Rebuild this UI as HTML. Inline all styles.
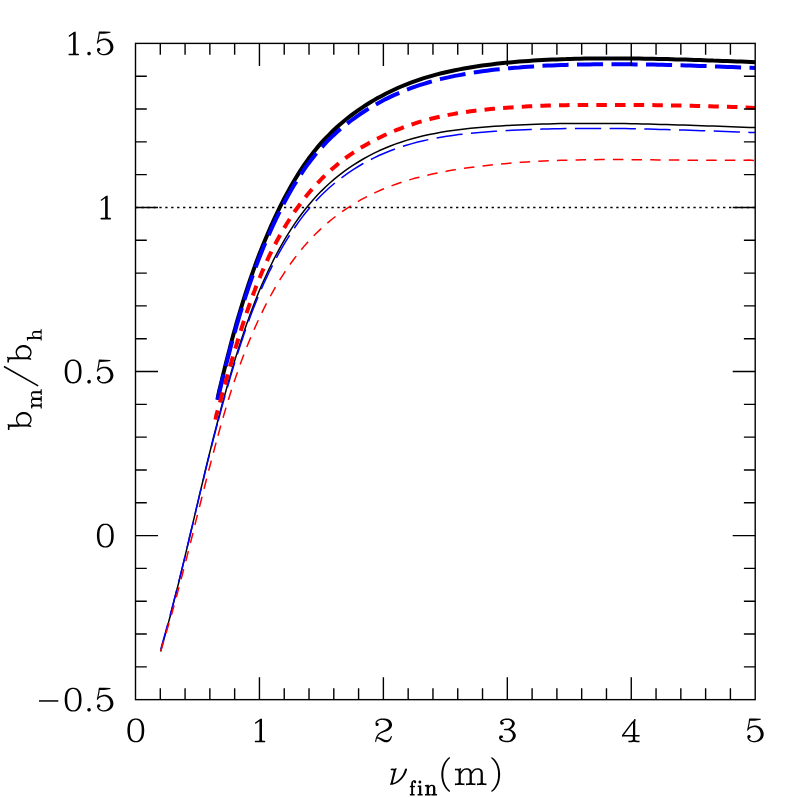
<!DOCTYPE html>
<html><head><meta charset="utf-8"><title>b_m/b_h</title>
<style>html,body{margin:0;padding:0;background:#fff;}svg{display:block;}body{font-family:"Liberation Serif",serif;}</style></head>
<body>
<svg width="797" height="797" viewBox="0 0 797 797">
<title>b_m/b_h versus nu_fin(m)</title><desc>Line chart. x axis nu_fin(m) from 0 to 5 (ticks 0 1 2 3 4 5); y axis b_m/b_h from -0.5 to 1.5 (ticks -0.5 0 0.5 1 1.5). Thick and thin black solid, blue long-dashed and red short-dashed curves; dotted line at 1.</desc>
<rect width="797" height="797" fill="#fff"/>
<path d="M135.60 207.46H755.20" stroke="#000" stroke-width="1.5" stroke-dasharray="2.3 3.634" fill="none"/>
<path d="M160.6 651.5 L162.1 645.8 L163.7 640.1 L165.3 634.3 L166.8 628.6 L168.4 622.9 L169.9 617.2 L171.4 611.4 L172.9 605.7 L174.3 599.9 L175.8 594.2 L177.2 588.4 L178.7 582.7 L180.1 576.9 L181.5 571.1 L182.9 565.4 L184.3 559.6 L185.6 553.8 L187.0 548.1 L188.4 542.3 L189.7 536.5 L191.1 530.7 L192.5 525.0 L193.8 519.2 L195.2 513.4 L196.5 507.6 L197.9 501.9 L199.2 496.1 L200.6 490.3 L202.0 484.6 L203.4 478.8 L204.7 473.0 L206.1 467.3 L207.5 461.5 L208.9 455.7 L210.4 450.0 L211.8 444.2 L213.2 438.5 L214.7 432.7 L216.2 427.0 L217.7 421.3 L219.2 415.5 L220.7 409.8 L222.2 404.1 L223.8 398.4 L225.4 392.7 L227.0 387.0 L228.6 381.3 L230.2 375.6 L231.9 369.9 L233.6 364.2 L235.3 358.6 L237.1 352.9 L238.9 347.2 L240.7 341.6 L242.6 336.0 L244.4 330.4 L246.4 324.8 L248.4 319.2 L250.4 313.6 L252.5 308.0 L254.6 302.5 L256.8 297.0 L259.0 291.5 L261.3 286.0 L263.7 280.6 L266.2 275.2 L268.7 269.8 L271.3 264.5 L273.9 259.1 L276.7 253.8 L279.5 248.6 L282.5 243.4 L285.5 238.2 L288.6 233.1 L291.8 228.1 L295.1 223.1 L298.5 218.3 L302.0 213.5 L305.6 208.8 L309.4 204.2 L313.2 199.7 L317.2 195.3 L321.3 191.1 L325.5 187.0 L329.8 183.0 L334.3 179.1 L338.9 175.4 L343.5 171.8 L348.3 168.4 L353.2 165.1 L358.2 162.0 L363.2 159.0 L368.4 156.1 L373.6 153.4 L378.9 150.8 L384.3 148.5 L389.7 146.2 L395.2 144.1 L400.8 142.2 L406.4 140.4 L412.0 138.8 L417.7 137.2 L423.5 135.8 L429.3 134.5 L435.1 133.4 L440.9 132.3 L446.8 131.3 L452.7 130.5 L458.7 129.7 L464.6 128.9 L470.6 128.3 L476.5 127.7 L482.5 127.2 L488.5 126.7 L494.5 126.3 L500.5 125.9 L506.5 125.6 L512.4 125.3 L518.4 125.0 L524.4 124.7 L530.3 124.5 L536.3 124.3 L542.2 124.1 L548.1 123.9 L554.1 123.8 L560.0 123.6 L565.9 123.6 L571.8 123.5 L577.7 123.4 L583.6 123.4 L589.6 123.4 L595.5 123.4 L601.4 123.4 L607.3 123.4 L613.2 123.5 L619.1 123.5 L625.0 123.6 L630.9 123.7 L636.7 123.8 L642.6 123.9 L648.5 124.1 L654.5 124.2 L660.4 124.4 L666.3 124.5 L672.2 124.7 L678.1 124.9 L684.0 125.1 L689.9 125.3 L695.9 125.5 L701.8 125.7 L707.7 125.9 L713.7 126.1 L719.6 126.3 L725.6 126.5 L731.5 126.8 L737.5 127.0 L743.5 127.2 L749.5 127.4 L755.3 127.5" stroke="#000" stroke-width="1.5" fill="none" stroke-linejoin="round"/>
<path d="M217.4 399.6 L218.3 395.0 L219.3 390.5 L220.4 386.0 L221.5 381.6 L222.5 377.1 L223.6 372.6 L224.7 368.1 L225.8 363.6 L227.0 359.1 L228.1 354.7 L229.3 350.2 L230.4 345.7 L231.6 341.2 L232.8 336.8 L234.0 332.3 L235.3 327.8 L236.5 323.4 L237.8 318.9 L239.1 314.5 L240.4 310.0 L241.8 305.6 L243.1 301.2 L244.5 296.8 L245.9 292.4 L247.4 288.0 L248.8 283.6 L250.3 279.2 L251.8 274.8 L253.4 270.4 L254.9 266.1 L256.5 261.7 L258.1 257.4 L259.8 253.1 L261.5 248.8 L263.2 244.5 L265.0 240.2 L266.8 235.9 L268.6 231.7 L270.4 227.4 L272.3 223.2 L274.2 219.0 L276.2 214.8 L278.2 210.6 L280.2 206.5 L282.3 202.3 L284.4 198.2 L286.6 194.1 L288.8 190.1 L291.1 186.0 L293.4 182.0 L295.8 178.0 L298.2 174.1 L300.7 170.2 L303.2 166.4 L305.8 162.6 L308.5 158.8 L311.3 155.1 L314.1 151.5 L317.0 147.9 L320.0 144.4 L323.1 140.9 L326.2 137.6 L329.5 134.3 L332.8 131.0 L336.2 127.8 L339.6 124.7 L343.2 121.7 L346.8 118.8 L350.5 115.9 L354.2 113.1 L358.0 110.4 L361.8 107.8 L365.7 105.2 L369.6 102.8 L373.6 100.4 L377.6 98.1 L381.7 95.9 L385.7 93.7 L389.8 91.7 L394.0 89.7 L398.2 87.8 L402.4 86.0 L406.6 84.3 L410.9 82.7 L415.2 81.1 L419.5 79.6 L423.8 78.2 L428.2 76.9 L432.6 75.6 L437.0 74.4 L441.4 73.3 L445.9 72.2 L450.4 71.2 L454.9 70.3 L459.4 69.4 L463.9 68.5 L468.5 67.7 L473.0 67.0 L477.6 66.3 L482.2 65.6 L486.8 65.0 L491.4 64.4 L496.0 63.8 L500.7 63.3 L505.3 62.8 L509.9 62.4 L514.6 62.0 L519.3 61.6 L523.9 61.2 L528.6 60.9 L533.3 60.6 L537.9 60.3 L542.6 60.0 L547.3 59.8 L552.0 59.6 L556.6 59.4 L561.3 59.2 L566.0 59.1 L570.6 58.9 L575.3 58.8 L579.9 58.7 L584.6 58.6 L589.2 58.6 L593.8 58.5 L598.4 58.5 L603.1 58.4 L607.7 58.4 L612.3 58.4 L616.9 58.4 L621.5 58.4 L626.1 58.5 L630.6 58.5 L635.2 58.5 L639.8 58.6 L644.4 58.7 L649.0 58.7 L653.6 58.8 L658.1 58.9 L662.7 59.0 L667.3 59.1 L671.9 59.3 L676.5 59.4 L681.1 59.5 L685.7 59.6 L690.3 59.8 L694.9 59.9 L699.5 60.1 L704.1 60.2 L708.8 60.4 L713.4 60.6 L718.1 60.7 L722.7 60.9 L727.4 61.1 L732.0 61.2 L736.7 61.4 L741.4 61.6 L746.1 61.8 L750.8 62.0 L755.3 62.2" stroke="#000" stroke-width="4.0" fill="none" stroke-linejoin="round"/>
<path d="M160.6 650.1 L162.1 644.4 L163.7 638.8 L165.3 633.1 L166.8 627.5 L168.4 621.8 L169.9 616.2 L171.4 610.5 L172.9 604.8 L174.3 599.1 L175.8 593.5 L177.2 587.8 L178.7 582.1 L180.1 576.4 L181.5 570.7 L182.9 565.0 L184.3 559.3 L185.6 553.6 L187.0 547.9 L188.4 542.2 L189.7 536.5 L191.1 530.8 L192.5 525.1 L193.8 519.4 L195.2 513.7 L196.5 508.0 L197.9 502.3 L199.2 496.6 L200.6 490.9 L202.0 485.2 L203.4 479.5 L204.7 473.8 L206.1 468.1 L207.5 462.4 L208.9 456.7 L210.4 451.0 L211.8 445.3 L213.2 439.7 L214.7 434.0 L216.2 428.3 L217.4 423.6" stroke="#00f" stroke-width="1.5" fill="none" stroke-linejoin="round" stroke-dasharray="26.25 8.45" stroke-dashoffset="-1.2"/>
<path d="M217.4 423.6 L217.7 422.7 L219.2 417.0 L220.7 411.3 L222.2 405.7 L223.8 400.1 L225.4 394.4 L227.0 388.8 L228.6 383.2 L230.2 377.5 L231.9 371.9 L233.6 366.3 L235.3 360.7 L237.1 355.1 L238.9 349.5 L240.7 344.0 L242.6 338.4 L244.4 332.9 L246.4 327.3 L248.4 321.8 L250.4 316.3 L252.5 310.8 L254.6 305.4 L256.8 299.9 L259.0 294.5 L261.3 289.1 L263.7 283.7 L266.2 278.4 L268.7 273.0 L271.3 267.8 L273.9 262.5 L276.7 257.3 L279.5 252.1 L282.5 246.9 L285.5 241.8 L288.6 236.8 L291.8 231.9 L295.1 227.0 L298.5 222.1 L302.0 217.4 L305.6 212.8 L309.4 208.2 L313.2 203.8 L317.2 199.5 L321.3 195.3 L325.5 191.2 L329.8 187.3 L334.3 183.5 L338.9 179.8 L343.5 176.3 L348.3 172.9 L353.2 169.6 L358.2 166.5 L363.2 163.5 L368.4 160.7 L373.6 158.1 L378.9 155.5 L384.3 153.2 L389.7 151.0 L395.2 148.9 L400.8 147.0 L406.4 145.2 L412.0 143.6 L417.7 142.1 L423.5 140.7 L429.3 139.4 L435.1 138.3 L440.9 137.2 L446.8 136.3 L452.7 135.4 L458.7 134.6 L464.6 133.9 L470.6 133.3 L476.5 132.7 L482.5 132.2 L488.5 131.7 L494.5 131.3 L500.5 130.9 L506.5 130.6 L512.4 130.3 L518.4 130.0 L524.4 129.7 L530.3 129.5 L536.3 129.3 L542.2 129.1 L548.1 128.9 L554.1 128.8 L560.0 128.7 L565.9 128.6 L571.8 128.5 L577.7 128.4 L583.6 128.4 L589.6 128.4 L595.5 128.4 L601.4 128.4 L607.3 128.5 L613.2 128.5 L619.1 128.6 L625.0 128.6 L630.9 128.7 L636.7 128.8 L642.6 129.0 L648.5 129.1 L654.5 129.2 L660.4 129.4 L666.3 129.6 L672.2 129.7 L678.1 129.9 L684.0 130.1 L689.9 130.3 L695.9 130.5 L701.8 130.7 L707.7 130.9 L713.7 131.1 L719.6 131.3 L725.6 131.5 L731.5 131.8 L737.5 132.0 L743.5 132.2 L749.5 132.4 L755.3 132.5" stroke="#00f" stroke-width="1.5" fill="none" stroke-linejoin="round" stroke-dasharray="26.25 8.45" stroke-dashoffset="-2.75"/>
<path d="M217.4 401.3 L218.3 396.7 L219.3 392.3 L220.4 387.9 L221.5 383.4 L222.5 379.0 L223.6 374.6 L224.7 370.2 L225.8 365.7 L227.0 361.3 L228.1 356.9 L229.3 352.4 L230.4 348.0 L231.6 343.6 L232.8 339.2 L234.0 334.8 L235.3 330.4 L236.5 326.0 L237.8 321.6 L239.1 317.2 L240.4 312.8 L241.8 308.4 L243.1 304.0 L244.5 299.7 L245.9 295.3 L247.4 291.0 L248.8 286.6 L250.3 282.3 L251.8 278.0 L253.4 273.7 L254.9 269.4 L256.5 265.1 L258.1 260.8 L259.8 256.5 L261.5 252.3 L263.2 248.0 L265.0 243.8 L266.8 239.6 L268.6 235.4 L270.4 231.2 L272.3 227.0 L274.2 222.9 L276.2 218.7 L278.2 214.6 L280.2 210.5 L282.3 206.4 L284.4 202.3 L286.6 198.3 L288.8 194.3 L291.1 190.3 L293.4 186.3 L295.8 182.4 L298.2 178.5 L300.7 174.7 L303.2 170.9 L305.8 167.1 L308.5 163.4 L311.3 159.8 L314.1 156.2 L317.0 152.6 L320.0 149.2 L323.1 145.8 L326.2 142.4 L329.5 139.1 L332.8 135.9 L336.2 132.8 L339.6 129.8 L343.2 126.8 L346.8 123.9 L350.5 121.0 L354.2 118.3 L358.0 115.6 L361.8 113.0 L365.7 110.5 L369.6 108.0 L373.6 105.7 L377.6 103.4 L381.7 101.2 L385.7 99.1 L389.8 97.1 L394.0 95.1 L398.2 93.3 L402.4 91.5 L406.6 89.8 L410.9 88.2 L415.2 86.6 L419.5 85.2 L423.8 83.8 L428.2 82.5 L432.6 81.2 L437.0 80.0 L441.4 78.9 L445.9 77.9 L450.4 76.9 L454.9 75.9 L459.4 75.1 L463.9 74.2 L468.5 73.4 L473.0 72.7 L477.6 72.0 L482.2 71.3 L486.8 70.7 L491.4 70.1 L496.0 69.6 L500.7 69.1 L505.3 68.6 L509.9 68.2 L514.6 67.7 L519.3 67.4 L523.9 67.0 L528.6 66.7 L533.3 66.4 L537.9 66.1 L542.6 65.8 L547.3 65.6 L552.0 65.4 L556.6 65.2 L561.3 65.0 L566.0 64.9 L570.6 64.8 L575.3 64.6 L579.9 64.5 L584.6 64.5 L589.2 64.4 L593.8 64.3 L598.4 64.3 L603.1 64.3 L607.7 64.2 L612.3 64.2 L616.9 64.2 L621.5 64.3 L626.1 64.3 L630.6 64.3 L635.2 64.4 L639.8 64.4 L644.4 64.5 L649.0 64.6 L653.6 64.6 L658.1 64.7 L662.7 64.8 L667.3 64.9 L671.9 65.1 L676.5 65.2 L681.1 65.3 L685.7 65.4 L690.3 65.6 L694.9 65.7 L699.5 65.9 L704.1 66.0 L708.8 66.2 L713.4 66.4 L718.1 66.5 L722.7 66.7 L727.4 66.9 L732.0 67.0 L736.7 67.2 L741.4 67.4 L746.1 67.6 L750.8 67.7 L755.3 68.0" stroke="#00f" stroke-width="4.0" fill="none" stroke-linejoin="round" stroke-dasharray="26.1 8.42" stroke-dashoffset="-1.42"/>
<path d="M160.7 651.5 L162.2 646.0 L163.9 640.6 L165.5 635.1 L167.1 629.6 L168.7 624.2 L170.3 618.7 L171.9 613.2 L173.4 607.7 L174.9 602.2 L176.4 596.7 L177.9 591.2 L179.4 585.7 L180.8 580.2 L182.3 574.7 L183.7 569.1 L185.1 563.6 L186.6 558.1 L188.0 552.6 L189.4 547.0 L190.8 541.5 L192.2 536.0 L193.6 530.4 L194.9 524.9 L196.3 519.4 L197.7 513.8 L199.1 508.3 L200.5 502.8 L201.9 497.3 L203.3 491.7 L204.7 486.2 L206.1 480.7 L207.5 475.2 L208.9 469.7 L210.4 464.2 L211.8 458.7 L213.3 453.2 L214.7 447.7 L216.2 442.2 L217.4 437.7" stroke="#f00" stroke-width="1.5" fill="none" stroke-linejoin="round" stroke-dasharray="10.5 8.16" stroke-dashoffset="-0.4"/>
<path d="M217.4 437.7 L217.7 436.7 L219.2 431.2 L220.7 425.7 L222.3 420.3 L223.9 414.8 L225.5 409.4 L227.1 403.9 L228.8 398.5 L230.5 393.1 L232.2 387.7 L234.0 382.3 L235.8 376.9 L237.7 371.5 L239.6 366.1 L241.5 360.8 L243.5 355.4 L245.6 350.1 L247.7 344.7 L249.9 339.4 L252.1 334.2 L254.4 328.9 L256.7 323.7 L259.1 318.4 L261.6 313.3 L264.1 308.1 L266.7 303.0 L269.4 297.9 L272.2 292.9 L275.0 287.9 L277.9 283.0 L280.9 278.1 L284.0 273.3 L287.2 268.5 L290.5 263.8 L293.8 259.2 L297.3 254.7 L300.8 250.3 L304.4 245.9 L308.2 241.7 L312.0 237.5 L316.0 233.5 L320.1 229.6 L324.2 225.8 L328.5 222.1 L332.9 218.5 L337.3 215.1 L341.9 211.8 L346.6 208.6 L351.3 205.5 L356.1 202.6 L361.1 199.7 L366.0 197.1 L371.1 194.5 L376.2 192.1 L381.4 189.8 L386.7 187.6 L392.0 185.6 L397.3 183.7 L402.7 181.9 L408.2 180.2 L413.7 178.6 L419.2 177.2 L424.8 175.8 L430.3 174.5 L436.0 173.3 L441.6 172.2 L447.3 171.1 L452.9 170.1 L458.6 169.2 L464.3 168.3 L470.0 167.5 L475.7 166.8 L481.3 166.1 L487.0 165.4 L492.7 164.8 L498.4 164.2 L504.1 163.7 L509.8 163.2 L515.4 162.7 L521.1 162.3 L526.8 161.9 L532.5 161.6 L538.2 161.3 L543.9 161.0 L549.5 160.8 L555.2 160.5 L560.9 160.3 L566.6 160.2 L572.3 160.0 L577.9 159.9 L583.6 159.8 L589.3 159.7 L595.0 159.7 L600.7 159.6 L606.4 159.6 L612.1 159.6 L617.7 159.6 L623.4 159.6 L629.1 159.7 L634.8 159.7 L640.5 159.7 L646.2 159.8 L651.9 159.8 L657.6 159.9 L663.3 160.0 L669.0 160.0 L674.7 160.1 L680.4 160.1 L686.1 160.2 L691.8 160.2 L697.5 160.3 L703.2 160.3 L708.9 160.3 L714.6 160.3 L720.3 160.3 L726.1 160.3 L731.8 160.3 L737.5 160.2 L743.2 160.2 L749.0 160.1 L754.6 160.5" stroke="#f00" stroke-width="1.5" fill="none" stroke-linejoin="round" stroke-dasharray="10.5 8.16" stroke-dashoffset="-2.09"/>
<path d="M215.5 419.7 L216.4 414.9 L217.6 410.7 L218.8 406.5 L220.0 402.2 L221.2 397.9 L222.4 393.6 L223.6 389.3 L224.8 385.0 L226.0 380.7 L227.2 376.4 L228.5 372.1 L229.7 367.7 L231.0 363.4 L232.2 359.1 L233.5 354.7 L234.8 350.4 L236.1 346.0 L237.4 341.7 L238.7 337.4 L240.1 333.0 L241.4 328.7 L242.8 324.4 L244.2 320.0 L245.6 315.7 L247.1 311.4 L248.6 307.1 L250.1 302.8 L251.6 298.6 L253.2 294.3 L254.8 290.1 L256.4 285.8 L258.1 281.6 L259.8 277.4 L261.5 273.2 L263.3 269.1 L265.1 264.9 L267.0 260.8 L268.9 256.7 L270.9 252.6 L272.9 248.5 L275.0 244.5 L277.1 240.5 L279.3 236.5 L281.5 232.6 L283.8 228.7 L286.1 224.8 L288.5 221.0 L291.0 217.1 L293.5 213.4 L296.0 209.7 L298.7 206.0 L301.4 202.4 L304.1 198.8 L306.9 195.3 L309.8 191.8 L312.7 188.4 L315.7 185.0 L318.8 181.8 L321.9 178.5 L325.1 175.4 L328.4 172.3 L331.7 169.3 L335.1 166.4 L338.5 163.5 L342.0 160.7 L345.6 158.0 L349.3 155.4 L353.0 152.9 L356.7 150.4 L360.5 148.0 L364.4 145.7 L368.3 143.5 L372.2 141.3 L376.2 139.2 L380.3 137.2 L384.3 135.3 L388.4 133.4 L392.6 131.6 L396.8 129.9 L401.0 128.3 L405.2 126.7 L409.4 125.2 L413.7 123.8 L418.0 122.4 L422.3 121.2 L426.6 120.0 L431.0 118.8 L435.3 117.8 L439.7 116.8 L444.1 115.8 L448.5 114.9 L452.9 114.1 L457.3 113.3 L461.8 112.6 L466.2 111.9 L470.7 111.3 L475.2 110.7 L479.6 110.2 L484.1 109.7 L488.6 109.2 L493.1 108.8 L497.7 108.4 L502.2 108.0 L506.7 107.7 L511.2 107.4 L515.8 107.1 L520.3 106.8 L524.9 106.6 L529.4 106.3 L534.0 106.1 L538.5 105.9 L543.1 105.8 L547.6 105.6 L552.2 105.5 L556.7 105.4 L561.3 105.3 L565.9 105.2 L570.4 105.1 L575.0 105.1 L579.5 105.0 L584.0 105.0 L588.6 104.9 L593.1 104.9 L597.7 104.9 L602.2 104.9 L606.7 104.9 L611.2 104.9 L615.7 104.9 L620.2 104.9 L624.7 104.9 L629.2 104.9 L633.7 105.0 L638.2 105.0 L642.7 105.0 L647.1 105.1 L651.6 105.1 L656.1 105.2 L660.6 105.2 L665.1 105.3 L669.5 105.4 L674.0 105.5 L678.5 105.5 L683.0 105.6 L687.5 105.7 L692.0 105.8 L696.4 105.9 L700.9 106.0 L705.4 106.2 L710.0 106.3 L714.5 106.4 L719.0 106.5 L723.5 106.7 L728.0 106.8 L732.6 107.0 L737.1 107.1 L741.7 107.3 L746.2 107.5 L750.8 107.7 L755.3 107.9" stroke="#f00" stroke-width="4.0" fill="none" stroke-linejoin="round" stroke-dasharray="10.5 8.16" stroke-dashoffset="0.89"/>
<path d="M160.29 699.65v-11.3M160.29 43.40v11.3M185.08 699.65v-11.3M185.08 43.40v11.3M209.86 699.65v-11.3M209.86 43.40v11.3M234.65 699.65v-11.3M234.65 43.40v11.3M259.44 699.65v-22.5M259.44 43.40v22.5M284.23 699.65v-11.3M284.23 43.40v11.3M309.02 699.65v-11.3M309.02 43.40v11.3M333.80 699.65v-11.3M333.80 43.40v11.3M358.59 699.65v-11.3M358.59 43.40v11.3M383.38 699.65v-22.5M383.38 43.40v22.5M408.17 699.65v-11.3M408.17 43.40v11.3M432.96 699.65v-11.3M432.96 43.40v11.3M457.74 699.65v-11.3M457.74 43.40v11.3M482.53 699.65v-11.3M482.53 43.40v11.3M507.32 699.65v-22.5M507.32 43.40v22.5M532.11 699.65v-11.3M532.11 43.40v11.3M556.90 699.65v-11.3M556.90 43.40v11.3M581.68 699.65v-11.3M581.68 43.40v11.3M606.47 699.65v-11.3M606.47 43.40v11.3M631.26 699.65v-22.5M631.26 43.40v22.5M656.05 699.65v-11.3M656.05 43.40v11.3M680.84 699.65v-11.3M680.84 43.40v11.3M705.62 699.65v-11.3M705.62 43.40v11.3M730.41 699.65v-11.3M730.41 43.40v11.3M135.50 666.84h11.3M755.20 666.84h-11.3M135.50 634.02h11.3M755.20 634.02h-11.3M135.50 601.21h11.3M755.20 601.21h-11.3M135.50 568.40h11.3M755.20 568.40h-11.3M135.50 535.59h22.5M755.20 535.59h-22.5M135.50 502.77h11.3M755.20 502.77h-11.3M135.50 469.96h11.3M755.20 469.96h-11.3M135.50 437.15h11.3M755.20 437.15h-11.3M135.50 404.34h11.3M755.20 404.34h-11.3M135.50 371.52h22.5M755.20 371.52h-22.5M135.50 338.71h11.3M755.20 338.71h-11.3M135.50 305.90h11.3M755.20 305.90h-11.3M135.50 273.09h11.3M755.20 273.09h-11.3M135.50 240.27h11.3M755.20 240.27h-11.3M135.50 207.46h22.5M755.20 207.46h-22.5M135.50 174.65h11.3M755.20 174.65h-11.3M135.50 141.84h11.3M755.20 141.84h-11.3M135.50 109.02h11.3M755.20 109.02h-11.3M135.50 76.21h11.3M755.20 76.21h-11.3" stroke="#000" stroke-width="1.4" fill="none"/>
<rect x="135.50" y="43.40" width="619.70" height="656.25" fill="none" stroke="#000" stroke-width="1.4"/>
<defs><path id="g-one" d="M0.44 4.23L0.31 4.40L0.23 4.66L0.24 4.88L0.34 5.13L0.48 5.29L0.67 5.41L0.93 5.46L1.15 5.43L5.15 2.83L5.15 22.22L4.69 22.92L0.79 22.92L0.49 22.98L0.23 23.15L0.06 23.42L0.00 23.79L0.09 24.09L0.35 24.38L0.56 24.48L0.79 24.51L10.88 24.51L11.26 24.42L11.44 24.28L11.58 24.09L11.68 23.72L11.59 23.35L11.33 23.06L10.96 22.92L8.57 22.92L8.03 22.11L8.02 0.03L7.91 0.00L7.16 0.46L6.95 0.31L6.74 0.26L6.53 0.27L6.33 0.34Z"/><path id="g-period" d="M172 113Q172 159 206 192Q240 225 285 225Q313 225 340 210Q367 195 382 168Q397 141 397 113Q397 68 364 34Q331 0 285 0Q240 0 206 34Q172 68 172 113Z"/><path id="g-five" d="M0.71 8.56L0.00 11.63L0.11 11.97L0.28 12.11L0.48 12.18L0.77 12.14L0.95 12.02L1.37 11.38L1.74 10.95L2.21 10.51L2.74 10.12L3.93 9.47L5.32 8.95L6.63 8.65L7.74 8.60L8.29 8.66L8.92 8.79L9.53 8.98L10.10 9.24L10.77 9.65L11.46 10.22L12.06 10.87L12.57 11.59L12.99 12.36L13.36 13.25L13.64 14.19L13.82 15.14L13.87 15.79L13.85 16.44L13.78 17.00L13.63 17.65L13.41 18.28L13.16 18.81L12.82 19.38L12.41 19.93L11.94 20.45L11.48 20.86L10.89 21.29L10.32 21.63L9.64 21.95L9.02 22.18L8.38 22.34L7.72 22.45L7.05 22.50L6.38 22.48L5.72 22.39L5.17 22.26L4.56 22.04L3.96 21.74L3.41 21.38L2.96 21.02L2.30 20.33L1.84 19.65L2.22 19.64L2.63 19.53L2.99 19.32L3.29 19.02L3.50 18.65L3.61 18.24L3.61 17.82L3.50 17.41L3.35 17.13L3.15 16.89L2.82 16.63L2.53 16.50L2.22 16.43L1.79 16.43L1.48 16.50L1.20 16.63L0.94 16.81L0.72 17.05L0.55 17.32L0.42 17.70L0.22 17.96L0.17 18.31L0.26 19.00L0.53 19.87L0.97 20.68L1.60 21.47L2.35 22.18L3.02 22.66L3.65 23.02L4.40 23.35L5.18 23.59L5.98 23.75L6.91 23.83L7.75 23.83L8.78 23.74L9.80 23.56L10.81 23.28L11.80 22.93L12.67 22.52L13.39 22.09L14.10 21.58L14.68 21.05L15.28 20.38L15.74 19.72L16.07 19.18L16.41 18.44L16.68 17.67L16.84 16.96L16.92 16.34L16.94 15.62L16.87 14.80L16.69 13.88L16.45 13.09L16.14 12.31L15.73 11.48L15.25 10.70L14.82 10.12L14.28 9.52L13.62 8.92L13.03 8.48L12.36 8.07L11.67 7.74L10.96 7.47L10.25 7.28L9.41 7.13L8.57 7.06L7.83 7.05L7.00 7.11L6.18 7.23L5.37 7.41L4.47 7.69L3.69 8.01L2.96 8.39L2.26 8.83L1.68 9.28L2.51 5.42L3.04 2.32L3.16 2.37L7.57 2.20L10.98 1.81L13.89 1.34L13.97 1.30L14.00 1.22L13.91 0.43L13.86 0.35L7.99 0.06L2.28 0.00L2.22 0.08L2.17 0.54L2.01 0.73L1.93 0.96L1.44 4.67Z"/><path id="g-zero" d="M8.44 24.39L6.98 24.29L5.99 24.05L5.31 23.81L4.39 23.35L3.81 22.97L2.98 22.28L2.38 21.59L1.94 20.97L1.37 19.84L0.92 18.64L0.42 16.76L0.04 13.97L0.00 11.14L0.22 8.76L0.64 6.39L1.00 5.26L1.34 4.51L1.85 3.59L2.35 2.87L3.25 1.89L3.56 1.63L4.27 1.11L5.52 0.47L6.39 0.21L7.35 0.04L9.39 0.00L9.98 0.04L11.02 0.23L12.02 0.57L13.02 1.09L13.64 1.54L14.46 2.30L14.98 2.89L15.57 3.76L15.94 4.45L16.30 5.30L16.66 6.43L16.94 7.68L17.29 10.93L17.29 13.26L17.20 14.64L16.91 16.76L16.80 17.39L16.44 18.72L15.99 19.80L15.52 20.65L14.66 21.84L14.02 22.49L13.27 23.10L12.70 23.47L12.06 23.79L11.48 24.01L10.52 24.25L9.81 24.36ZM8.47 23.01L9.27 23.00L9.89 22.89L10.56 22.68L11.14 22.40L11.64 22.09L11.89 21.87L12.27 21.51L12.84 20.80L13.36 19.93L13.67 19.26L14.00 18.43L14.24 17.47L14.53 15.51L14.66 13.26L14.68 10.68L14.62 9.43L14.41 7.59L14.22 6.59L13.98 5.72L13.63 4.80L13.11 3.84L12.73 3.30L12.23 2.71L11.89 2.42L11.39 2.07L10.77 1.74L9.98 1.50L9.14 1.37L7.85 1.41L7.27 1.52L6.35 1.83L5.94 2.05L5.17 2.64L4.77 3.07L4.26 3.76L3.63 4.93L3.33 5.68L3.10 6.47L2.87 7.76L2.67 9.59L2.62 10.89L2.63 13.14L2.71 15.01L2.93 16.59L3.29 18.22L3.68 19.34L4.04 20.14L4.71 21.14L5.31 21.74L5.94 22.24L6.77 22.66L7.39 22.86L8.06 22.99Z"/><path id="g-two" d="M1.44 2.28L0.98 2.84L0.63 3.44L0.41 4.03L0.29 4.64L0.31 4.79L0.42 5.00L0.67 5.19L0.51 5.53L0.43 5.94L0.45 6.36L0.55 6.67L0.76 7.03L0.97 7.27L1.23 7.45L1.52 7.58L1.94 7.67L2.26 7.66L2.57 7.58L2.94 7.40L3.19 7.19L3.39 6.95L3.58 6.57L3.65 6.26L3.65 5.84L3.54 5.43L3.33 5.06L3.03 4.76L2.66 4.55L2.26 4.44L1.83 4.44L1.51 4.51L1.73 3.88L2.06 3.37L2.38 3.05L2.83 2.70L3.34 2.39L4.00 2.09L5.35 1.65L6.76 1.44L7.46 1.42L8.27 1.47L9.65 1.73L10.96 2.18L11.62 2.53L12.14 2.87L12.62 3.27L13.03 3.70L13.38 4.15L13.68 4.66L13.91 5.19L14.07 5.74L14.16 6.29L14.16 6.84L13.99 7.76L13.64 8.54L13.05 9.34L12.21 10.12L11.33 10.74L10.36 11.32L6.57 13.12L5.23 13.86L4.51 14.33L3.90 14.80L3.35 15.30L2.85 15.84L2.32 16.54L1.81 17.36L1.33 18.31L0.96 19.22L0.61 20.29L0.27 21.71L0.00 23.17L0.07 23.52L0.27 23.73L0.48 23.80L0.76 23.76L0.99 23.59L1.09 23.39L1.43 21.84L1.79 20.57L2.11 20.40L2.50 20.34L3.26 20.47L4.22 20.87L5.20 21.41L7.91 23.13L8.86 23.59L9.81 23.91L10.84 24.08L11.38 24.10L12.00 24.05L12.61 23.93L13.11 23.78L14.04 23.34L14.65 22.91L15.26 22.35L15.74 21.76L16.20 20.99L16.66 19.91L17.13 18.35L17.11 18.00L16.88 17.73L16.67 17.66L16.45 17.68L16.16 17.87L15.20 19.90L14.84 20.44L14.45 20.84L13.93 21.18L13.36 21.44L12.72 21.62L12.06 21.72L11.50 21.73L10.95 21.68L9.70 21.38L8.57 20.92L5.97 19.71L4.49 19.19L3.36 18.95L2.88 18.92L2.43 18.96L3.01 17.88L3.71 16.89L4.40 16.18L5.28 15.52L6.26 14.97L7.51 14.41L11.65 12.88L12.94 12.32L13.75 11.90L14.53 11.39L15.04 10.99L15.64 10.42L16.24 9.69L16.76 8.79L17.11 7.88L17.28 7.04L17.32 6.17L17.19 5.22L16.89 4.29L16.50 3.52L16.01 2.81L15.44 2.19L14.79 1.65L13.91 1.09L13.07 0.71L12.10 0.41L11.01 0.19L9.92 0.07L8.51 0.00L7.22 0.04L6.14 0.16L4.99 0.39L3.97 0.72L2.98 1.16L2.16 1.67Z"/><path id="g-three" d="M8.66 24.43L6.79 24.32L5.54 24.10L3.75 23.59L2.41 23.00L1.66 22.51L0.61 21.59L0.19 20.80L0.00 19.84L0.04 19.26L0.33 18.34L0.58 17.93L0.83 17.70L1.29 17.49L2.08 17.37L2.95 17.45L3.29 17.55L3.70 17.78L3.99 18.18L4.10 18.63L4.04 19.13L3.83 19.52L3.45 19.82L3.04 19.97L2.11 20.13L2.01 20.30L1.97 20.51L2.12 20.82L3.37 21.74L4.50 22.24L5.75 22.59L6.70 22.76L8.58 22.89L9.66 22.82L10.16 22.73L10.95 22.44L11.70 22.01L12.25 21.57L12.88 20.84L13.33 20.22L13.75 19.43L14.01 18.76L14.21 17.80L14.20 17.13L14.11 16.63L13.80 15.68L13.44 14.97L13.04 14.34L12.45 13.66L11.96 13.22L11.29 12.76L9.62 12.01L9.16 11.96L5.62 11.98L5.33 11.91L5.12 11.77L4.99 11.59L4.93 11.34L5.00 10.93L5.16 10.75L5.37 10.66L6.66 10.53L8.91 10.44L9.45 10.34L10.91 9.43L11.89 8.51L12.33 7.93L12.80 7.13L13.13 6.30L13.34 5.34L13.34 4.88L13.17 4.30L12.82 3.59L12.33 2.95L11.37 2.15L10.50 1.73L10.08 1.62L9.12 1.46L8.16 1.46L7.45 1.50L6.29 1.67L5.41 1.91L4.70 2.17L3.55 2.84L2.99 3.34L2.97 3.55L3.08 3.73L4.16 3.94L4.53 4.18L4.75 4.47L4.89 4.84L4.87 5.34L4.70 5.72L4.41 6.02L4.04 6.21L3.45 6.31L2.87 6.32L2.45 6.26L2.08 6.13L1.73 5.93L1.51 5.68L1.34 5.30L1.29 4.76L1.14 4.18L1.15 3.76L1.27 3.22L1.57 2.59L2.41 1.80L3.45 1.12L3.95 0.89L5.00 0.53L6.54 0.17L8.12 0.00L9.79 0.05L10.50 0.16L11.91 0.55L12.79 0.94L13.50 1.34L14.47 2.05L15.20 2.79L15.71 3.51L16.05 4.26L16.14 4.84L16.14 5.30L15.97 6.34L15.44 7.55L15.01 8.22L14.18 9.18L12.96 10.18L12.41 10.55L11.57 11.01L11.50 11.13L13.16 11.92L13.73 12.26L14.63 12.93L15.72 13.97L16.29 14.72L16.75 15.51L17.04 16.26L17.22 17.38L17.05 18.68L16.69 19.63L15.91 20.89L15.33 21.56L14.70 22.15L14.04 22.68L13.29 23.18L11.83 23.87L10.91 24.15L9.70 24.35ZM4.29 20.18L4.12 20.18L3.99 20.05L3.99 19.88L4.12 19.76L4.29 19.76L4.42 19.88L4.42 20.05Z"/><path id="g-four" d="M17.72 23.77L16.84 23.69L14.80 23.65L13.55 23.48L12.34 23.19L11.13 23.48L9.88 23.65L7.76 23.69L7.09 23.78L6.84 23.75L6.69 23.64L6.62 23.39L6.67 22.93L6.62 22.39L6.68 22.20L6.78 22.10L7.09 22.04L7.63 22.14L9.34 22.03L9.88 21.94L10.63 21.70L11.09 21.38L11.15 21.22L11.15 20.93L11.15 18.22L11.09 18.00L10.63 17.87L9.51 17.83L1.47 17.86L1.05 17.81L0.38 17.95L0.13 17.88L0.00 17.64L0.01 17.35L0.13 16.93L0.20 16.39L0.58 15.68L10.01 3.18L10.68 2.61L11.34 2.42L12.38 0.39L12.59 0.18L12.97 0.01L13.38 0.00L13.72 0.14L13.95 0.43L14.04 0.77L13.54 3.22L13.61 5.47L13.58 13.35L13.61 16.14L13.72 16.24L14.47 16.32L16.93 16.32L17.72 16.21L17.97 16.31L18.07 16.60L18.02 17.06L18.06 17.64L17.97 17.84L17.80 17.93L16.51 17.84L14.05 17.85L13.59 17.93L13.53 18.14L13.54 21.27L13.63 21.42L13.97 21.66L14.76 21.94L15.34 22.03L17.01 22.13L17.55 22.04L17.86 22.10L17.97 22.20L18.02 22.39L17.98 22.89L18.02 23.43L17.93 23.68ZM10.43 16.31L11.18 16.29L11.26 16.25L11.30 16.14L11.32 5.47L11.30 4.39L11.26 4.25L11.18 4.20L11.04 4.27L10.83 4.52L2.11 16.18L2.18 16.28L2.43 16.32Z"/><path id="g-nu" d="M0.97 16.62L0.56 16.63L0.21 16.45L0.02 16.12L0.00 15.70L0.18 15.31L0.52 14.87L0.68 14.41L3.19 4.08L3.35 3.37L3.46 2.49L3.35 2.30L2.93 2.15L2.18 2.06L1.31 2.04L1.02 1.98L0.81 1.87L0.60 1.62L0.53 1.33L0.62 0.66L0.68 0.54L0.85 0.47L2.64 0.39L3.56 0.44L4.39 0.56L5.43 0.07L5.81 0.00L6.06 0.05L6.27 0.17L6.43 0.37L6.50 0.62L6.49 0.87L6.41 1.12L5.73 2.03L5.63 2.24L5.50 3.20L2.85 14.08L2.72 14.70L2.76 14.83L2.85 14.85L4.64 14.13L6.89 12.79L8.52 11.50L9.99 10.03L11.06 8.74L11.75 7.74L12.27 6.95L13.03 5.58L13.38 4.87L13.98 3.37L14.42 2.12L14.58 1.41L14.82 0.95L15.18 0.56L15.56 0.40L16.06 0.41L16.47 0.64L16.73 1.08L16.73 1.62L15.98 3.78L15.36 5.28L14.44 7.03L13.40 8.62L12.85 9.37L11.74 10.66L9.85 12.50L8.42 13.62L6.37 14.91L4.47 15.79L3.18 16.25L2.56 16.37L1.77 16.28Z"/><path id="g-sub_f" d="M4.60 15.31L0.48 15.32L0.18 15.24L0.06 15.10L0.00 14.89L0.00 14.39L0.11 14.06L0.35 13.93L1.18 13.83L1.31 13.75L1.38 13.60L1.41 8.31L1.40 7.39L1.35 7.11L1.18 7.05L0.48 7.07L0.23 6.99L0.06 6.72L0.04 6.26L0.10 5.89L0.27 5.72L0.52 5.66L1.23 5.66L1.38 5.56L1.39 3.43L1.50 2.60L1.76 1.89L2.09 1.35L2.52 0.83L3.14 0.38L3.81 0.09L4.23 0.01L4.68 0.00L5.27 0.13L5.98 0.62L6.31 1.22L6.41 1.81L6.33 2.35L6.06 2.76L5.64 3.01L5.18 3.07L4.73 2.88L4.37 2.51L4.27 2.26L4.21 1.89L4.24 1.35L4.18 1.27L4.10 1.28L3.75 1.60L3.57 1.89L3.32 2.56L3.22 3.10L3.18 5.14L3.23 5.60L3.31 5.66L3.56 5.69L4.85 5.68L5.09 5.81L5.20 6.10L5.19 6.68L5.12 6.89L5.02 6.99L4.73 7.07L3.43 7.06L3.33 7.10L3.27 7.22L3.27 13.56L3.35 13.72L3.52 13.82L4.56 13.92L4.85 14.07L4.95 14.35L4.94 14.93L4.84 15.18Z"/><path id="g-sub_i" d="M2.73 2.81L2.10 2.82L1.66 2.64L1.25 2.26L1.02 1.76L1.00 1.10L1.16 0.68L1.43 0.32L2.02 0.01L2.64 0.00L3.10 0.17L3.52 0.54L3.77 1.06L3.78 1.68L3.62 2.14L3.25 2.56ZM4.85 14.89L0.48 14.91L0.18 14.83L0.06 14.68L0.00 14.47L0.00 13.97L0.11 13.64L0.39 13.51L1.39 13.40L1.56 13.30L1.62 13.10L1.61 6.85L1.53 6.64L1.39 6.54L1.10 6.46L0.48 6.43L0.23 6.29L0.13 6.01L0.13 5.43L0.21 5.18L0.35 5.06L0.56 5.00L3.31 4.80L3.56 4.87L3.68 5.01L3.75 5.60L3.75 13.14L3.81 13.31L3.93 13.40L4.85 13.51L5.12 13.68L5.20 13.97L5.18 14.56L5.06 14.79Z"/><path id="g-sub_n" d="M11.85 10.69L6.85 10.70L6.56 10.64L6.40 10.48L6.34 10.23L6.34 9.73L6.38 9.52L6.48 9.36L6.73 9.26L7.27 9.24L7.90 9.12L8.06 9.02L8.15 8.77L8.15 4.10L8.07 2.52L7.89 1.89L7.66 1.52L7.31 1.28L6.94 1.23L6.35 1.26L5.94 1.39L5.52 1.60L5.06 1.96L4.73 2.39L4.40 2.97L4.23 3.43L4.13 3.98L4.09 5.23L4.13 8.89L4.23 9.06L4.44 9.15L4.85 9.24L5.48 9.26L5.76 9.39L5.84 9.56L5.87 9.81L5.86 10.31L5.77 10.54L5.60 10.66L5.31 10.71L0.52 10.70L0.15 10.59L0.05 10.43L0.00 10.18L0.01 9.64L0.12 9.39L0.40 9.26L1.02 9.24L1.52 9.15L1.70 9.06L1.79 8.89L1.82 4.35L1.79 2.35L1.71 2.02L1.60 1.85L1.35 1.73L0.40 1.69L0.12 1.56L0.01 1.31L0.00 0.98L0.01 0.60L0.12 0.35L0.44 0.21L3.31 0.00L3.65 0.02L3.85 0.11L3.95 0.27L3.98 1.02L4.02 1.19L4.10 1.24L5.15 0.45L5.81 0.16L6.44 0.04L7.44 0.01L8.15 0.13L8.56 0.24L8.98 0.43L9.41 0.73L9.78 1.10L10.09 1.60L10.27 2.10L10.41 2.89L10.46 8.93L10.54 9.06L10.73 9.15L11.27 9.24L11.81 9.26L12.10 9.41L12.20 9.68L12.20 10.31L12.09 10.56Z"/><path id="g-parenleft" d="M8.19 34.38L7.69 34.33L6.93 33.75L6.23 33.14L4.88 31.71L3.58 30.00L2.39 27.92L1.39 25.59L0.59 22.75L0.26 20.79L0.05 18.92L0.00 18.00L0.05 15.50L0.26 13.59L0.52 11.96L1.25 9.21L1.97 7.38L2.51 6.25L3.23 4.96L4.55 3.09L5.63 1.88L6.73 0.82L7.69 0.09L8.15 0.00L8.48 0.07L8.73 0.29L8.80 0.59L8.73 0.87L7.58 2.00L6.44 3.24L5.38 4.67L4.99 5.25L4.22 6.67L3.31 8.84L2.63 11.17L2.22 13.59L2.05 15.25L2.04 18.00L2.09 19.59L2.34 21.59L2.75 23.63L3.46 25.96L4.34 27.96L5.22 29.50L6.65 31.39L8.73 33.51L8.80 33.79L8.73 34.09L8.48 34.31Z"/><path id="g-m" d="M31.27 16.99L30.39 16.88L29.27 16.87L28.43 16.78L27.85 16.70L26.81 16.44L25.73 16.70L24.35 16.87L23.18 16.89L22.48 17.00L22.23 16.95L22.10 16.83L22.04 16.60L22.10 16.10L22.04 15.56L22.09 15.35L22.18 15.24L22.48 15.17L23.02 15.26L23.77 15.25L24.68 15.11L25.27 14.90L25.56 14.69L25.67 14.52L25.70 5.02L25.61 4.10L25.41 3.31L25.15 2.73L24.73 2.17L24.23 1.82L23.64 1.57L23.14 1.46L22.06 1.44L21.35 1.55L20.60 1.81L19.89 2.21L19.43 2.56L18.53 3.56L17.82 4.73L17.52 5.02L17.12 5.19L17.00 5.52L16.91 6.56L16.95 14.52L17.06 14.69L17.35 14.90L17.93 15.11L18.85 15.25L19.60 15.25L20.14 15.17L20.43 15.24L20.55 15.39L20.58 15.60L20.51 16.06L20.57 16.64L20.43 16.92L20.10 17.00L19.52 16.89L17.85 16.83L16.85 16.70L15.81 16.44L14.77 16.70L13.39 16.87L12.27 16.88L11.48 17.00L11.23 16.95L11.10 16.83L11.04 16.60L11.10 16.10L11.04 15.56L11.09 15.35L11.18 15.24L11.48 15.17L12.02 15.27L12.81 15.25L13.68 15.11L14.27 14.90L14.56 14.69L14.67 14.52L14.71 5.64L14.76 5.02L14.44 3.39L14.10 2.69L13.64 2.13L13.18 1.80L12.68 1.59L12.14 1.46L11.06 1.43L10.31 1.56L9.48 1.87L8.93 2.18L8.39 2.59L7.61 3.44L7.22 4.02L6.95 4.60L6.70 4.98L6.48 5.19L6.10 5.37L6.00 5.56L5.91 6.60L5.91 14.14L5.96 14.52L6.06 14.69L6.35 14.90L6.93 15.11L7.85 15.25L8.56 15.27L9.14 15.17L9.43 15.24L9.53 15.35L9.58 15.56L9.51 16.06L9.58 16.60L9.50 16.85L9.35 16.97L9.14 17.00L8.35 16.88L7.27 16.87L5.89 16.70L4.81 16.44L3.77 16.70L2.77 16.83L1.31 16.88L0.48 17.00L0.18 16.95L0.05 16.81L0.00 16.60L0.06 16.10L0.00 15.52L0.14 15.24L0.43 15.17L1.06 15.27L1.77 15.25L2.68 15.11L3.27 14.90L3.56 14.69L3.66 14.52L3.70 14.19L3.71 5.73L3.75 5.10L3.64 4.35L3.57 3.19L3.51 2.81L3.42 2.60L2.93 2.31L2.31 2.14L1.10 2.08L0.43 2.21L0.16 2.14L0.05 2.02L0.00 1.81L0.07 1.27L0.00 0.81L0.05 0.56L0.18 0.43L0.43 0.38L0.93 0.46L2.77 0.43L4.31 0.64L5.35 0.06L5.73 0.00L6.06 0.05L6.17 0.14L6.23 0.31L6.20 0.81L5.92 1.52L5.64 1.98L5.74 2.89L5.72 3.35L5.77 3.58L5.85 3.63L6.51 2.64L7.04 2.02L8.10 1.12L8.83 0.69L9.56 0.38L10.06 0.22L11.18 0.01L12.18 0.00L12.98 0.10L13.81 0.31L14.77 0.79L15.41 1.27L15.90 1.77L16.27 2.33L16.60 3.06L16.73 3.46L16.81 3.54L16.99 3.44L17.77 2.28L18.46 1.60L19.23 1.03L20.43 0.42L21.06 0.22L22.18 0.01L23.06 0.00L23.98 0.09L24.73 0.27L25.31 0.51L26.14 1.02L26.49 1.31L26.90 1.77L27.17 2.14L27.50 2.77L27.74 3.52L27.91 4.94L27.95 14.52L28.06 14.69L28.35 14.90L28.93 15.11L29.85 15.25L30.56 15.26L31.14 15.17L31.43 15.24L31.57 15.52L31.51 16.06L31.57 16.64L31.48 16.89Z"/><path id="g-parenright" d="M0.78 34.38L0.40 34.34L0.15 34.17L0.04 33.83L0.11 33.51L0.61 32.95L1.07 32.56L2.25 31.33L3.16 30.17L4.33 28.29L5.32 26.12L6.04 23.92L6.58 21.25L6.70 20.33L6.79 18.83L6.82 16.79L6.74 14.46L6.45 12.42L6.10 10.67L5.41 8.46L4.54 6.50L3.41 4.58L2.13 2.92L0.07 0.87L0.00 0.58L0.07 0.29L0.32 0.06L0.65 0.00L1.11 0.10L1.82 0.58L2.48 1.15L3.84 2.54L5.28 4.42L6.50 6.54L7.41 8.58L8.16 11.08L8.41 12.37L8.75 14.67L8.84 15.58L8.87 16.79L8.79 19.33L8.29 22.71L8.07 23.62L7.46 25.62L6.74 27.33L6.19 28.47L5.25 30.04L3.87 31.83L2.61 33.14L1.98 33.68L1.15 34.28Z"/><path id="g-b" d="M10.64 24.39L9.81 24.41L9.23 24.32L8.73 24.21L7.56 23.79L6.81 23.37L6.06 22.81L5.23 21.98L5.14 22.00L5.07 22.10L4.50 23.47L4.23 23.77L4.02 23.89L3.35 24.03L3.06 23.98L2.92 23.85L2.88 23.47L3.37 20.72L3.40 11.64L3.33 10.89L3.32 3.10L3.23 2.60L3.15 2.43L2.93 2.28L2.48 2.09L2.06 2.00L1.02 1.94L0.39 2.03L0.11 1.93L0.00 1.68L0.04 1.18L0.00 0.72L0.05 0.51L0.18 0.38L0.43 0.33L0.93 0.39L2.35 0.34L3.39 0.46L4.35 0.66L4.48 0.60L4.68 0.24L4.93 0.07L5.56 0.00L5.75 0.06L5.86 0.18L5.91 0.60L5.82 1.01L5.64 1.25L5.35 1.43L5.29 1.60L5.40 2.31L5.45 3.22L5.46 10.26L5.52 10.53L5.64 10.49L6.10 10.12L7.21 9.39L8.31 8.93L9.39 8.66L10.31 8.54L11.52 8.59L12.27 8.72L13.35 9.07L14.32 9.60L15.66 10.68L16.60 11.89L17.29 13.22L17.60 14.18L17.74 14.81L17.91 16.01L17.91 16.93L17.55 18.89L17.23 19.72L16.73 20.68L16.44 21.14L15.56 22.22L14.35 23.21L13.56 23.67L12.56 24.09L11.52 24.32ZM10.66 23.01L11.68 22.81L12.64 22.39L13.10 22.07L13.91 21.35L14.61 20.35L15.08 19.31L15.48 17.72L15.54 16.93L15.52 15.47L15.35 14.39L14.96 13.10L14.70 12.56L14.04 11.60L13.14 10.80L12.39 10.36L11.64 10.08L11.06 9.94L10.10 9.90L9.02 10.07L7.93 10.55L7.14 11.05L6.27 11.93L5.93 12.17L5.53 12.35L5.50 20.10L5.56 20.30L6.14 20.75L7.21 21.97L7.89 22.46L8.56 22.79L8.98 22.93L9.73 23.03Z"/><path id="g-sub_m" d="M18.98 10.86L13.73 10.87L13.52 10.83L13.42 10.73L13.38 10.02L13.48 9.78L13.64 9.71L14.14 9.72L14.94 9.60L15.19 9.43L15.28 9.18L15.28 3.39L15.21 2.39L15.02 1.73L14.89 1.43L14.73 1.25L14.35 1.00L13.69 0.88L13.14 0.95L12.73 1.07L12.23 1.33L11.81 1.66L11.39 2.14L10.98 2.81L10.78 3.35L10.67 3.89L10.63 6.43L10.67 9.27L10.81 9.49L11.02 9.61L11.77 9.72L12.27 9.71L12.44 9.78L12.53 9.98L12.54 10.48L12.51 10.68L12.42 10.81L12.14 10.87L7.06 10.87L6.85 10.83L6.75 10.73L6.71 10.02L6.81 9.78L6.98 9.71L7.60 9.71L8.27 9.60L8.52 9.39L8.60 9.10L8.61 3.89L8.52 2.35L8.34 1.68L8.03 1.23L7.60 0.98L6.94 0.90L6.39 0.97L5.98 1.10L5.42 1.39L5.06 1.68L4.68 2.18L4.30 2.81L4.00 3.81L3.97 4.48L3.99 9.27L4.14 9.49L4.35 9.61L5.10 9.73L5.60 9.71L5.77 9.78L5.87 10.06L5.87 10.56L5.81 10.75L5.69 10.84L5.52 10.87L0.35 10.87L0.14 10.83L0.05 10.73L0.00 10.52L0.01 9.98L0.10 9.78L0.27 9.71L0.85 9.72L1.52 9.61L1.77 9.48L1.90 9.27L1.95 8.81L1.95 3.81L1.93 2.52L1.81 1.85L1.62 1.60L1.44 1.49L0.98 1.42L0.27 1.41L0.10 1.34L0.00 1.10L0.05 0.39L0.19 0.27L0.56 0.21L3.39 0.00L3.64 0.02L3.77 0.12L3.82 0.27L3.82 1.52L3.89 1.70L4.73 0.90L5.23 0.54L5.77 0.26L6.31 0.11L6.85 0.03L7.48 0.00L8.02 0.07L8.85 0.29L9.44 0.60L9.91 1.02L10.39 1.81L10.48 1.86L10.96 1.31L11.56 0.76L12.19 0.38L12.73 0.18L13.64 0.01L14.19 0.00L15.10 0.14L15.94 0.47L16.50 0.89L16.94 1.52L17.08 1.85L17.27 2.73L17.32 3.39L17.30 8.60L17.34 9.27L17.47 9.48L17.69 9.60L18.31 9.70L18.94 9.71L19.10 9.78L19.20 9.98L19.20 10.60L19.13 10.77Z"/><path id="g-sub_h" d="M11.19 14.86L6.44 14.87L6.23 14.83L6.13 14.73L6.09 14.14L6.19 13.91L6.35 13.84L7.40 13.74L7.65 13.63L7.77 13.46L7.83 12.81L7.83 9.19L7.74 7.48L7.67 7.14L7.47 6.64L7.24 6.35L6.98 6.21L6.06 6.15L5.73 6.20L5.27 6.36L4.85 6.62L4.50 6.94L4.20 7.31L3.93 7.77L3.67 8.56L3.69 13.48L3.77 13.61L3.98 13.72L4.56 13.83L5.06 13.84L5.23 13.91L5.33 14.14L5.33 14.56L5.27 14.75L5.10 14.86L4.81 14.87L0.35 14.87L0.19 14.85L0.06 14.75L0.00 14.56L0.00 14.14L0.10 13.91L0.27 13.84L1.35 13.73L1.56 13.64L1.69 13.48L1.74 8.31L1.70 1.81L1.57 1.52L1.35 1.36L1.02 1.29L0.27 1.28L0.10 1.21L0.01 1.02L0.00 0.60L0.03 0.39L0.12 0.27L0.65 0.17L3.15 0.00L3.40 0.03L3.54 0.14L3.58 0.39L3.55 0.77L3.58 6.44L3.65 6.65L3.81 6.58L4.44 5.97L4.90 5.68L5.44 5.47L6.23 5.29L6.85 5.30L8.02 5.53L8.69 5.89L9.11 6.31L9.44 6.94L9.66 7.89L9.71 9.19L9.69 13.39L9.80 13.60L10.02 13.72L10.48 13.81L11.15 13.84L11.31 13.91L11.41 14.10L11.41 14.60L11.34 14.77Z"/></defs>
<g fill="#000"><use href="#g-one" transform="matrix(0.8992 0 0 0.9750 68.50 31.45)"/><use href="#g-period" transform="matrix(0.01600 0 0 -0.01600 84.50 55.35)"/><use href="#g-five" transform="matrix(0.9797 0 0 1.0029 96.80 31.45)"/><use href="#g-one" transform="matrix(0.8992 0 0 0.9750 100.50 195.51)"/><use href="#g-zero" transform="matrix(0.9717 0 0 0.9799 64.70 359.57)"/><use href="#g-period" transform="matrix(0.01600 0 0 -0.01600 84.50 383.47)"/><use href="#g-five" transform="matrix(0.9797 0 0 1.0029 96.80 359.57)"/><use href="#g-zero" transform="matrix(0.9717 0 0 0.9799 96.90 523.64)"/><rect x="39.0" y="700.20" width="19.3" height="1.5"/><use href="#g-zero" transform="matrix(0.9717 0 0 0.9799 64.70 687.70)"/><use href="#g-period" transform="matrix(0.01600 0 0 -0.01600 84.50 711.60)"/><use href="#g-five" transform="matrix(0.9797 0 0 1.0029 96.80 687.70)"/><use href="#g-zero" transform="matrix(0.9717 0 0 0.9799 127.40 718.45)"/><use href="#g-one" transform="matrix(0.8992 0 0 0.9750 254.79 718.45)"/><use href="#g-two" transform="matrix(0.9759 0 0 0.9916 375.13 718.45)"/><use href="#g-three" transform="matrix(0.9755 0 0 0.9784 499.02 718.45)"/><use href="#g-four" transform="matrix(0.9797 0 0 0.9797 621.91 719.05)"/><use href="#g-five" transform="matrix(0.9797 0 0 1.0029 747.10 718.45)"/><use href="#g-nu" transform="matrix(1.0104 0 0 1.0043 390.10 768.20)"/><use href="#g-sub_f" transform="matrix(0.9982 0 0 0.9985 409.80 780.20)"/><use href="#g-sub_i" transform="matrix(0.9995 0 0 0.9995 417.50 780.60)"/><use href="#g-sub_n" transform="matrix(0.9998 0 0 0.9995 424.90 784.80)"/><use href="#g-parenleft" transform="matrix(0.9946 0 0 1.0006 441.30 757.30)"/><use href="#g-m" transform="matrix(1.0008 0 0 1.0002 454.90 768.20)"/><use href="#g-parenright" transform="matrix(1.0038 0 0 1.0006 491.20 757.30)"/></g>
<g fill="#000" transform="translate(0 430) rotate(-90)"><use href="#g-b" transform="matrix(1.0108 0 0 0.9874 0.00 7.50)"/><use href="#g-sub_m" transform="matrix(1.0000 0 0 1.0026 21.50 30.90)"/><path d="M44.1 38.2L63.5 3.95" stroke="#000" stroke-width="1.5" fill="none"/><use href="#g-b" transform="matrix(0.9828 0 0 1.0079 67.40 7.00)"/><use href="#g-sub_h" transform="matrix(0.9992 0 0 1.0018 89.40 26.80)"/></g>
</svg>
</body></html>
